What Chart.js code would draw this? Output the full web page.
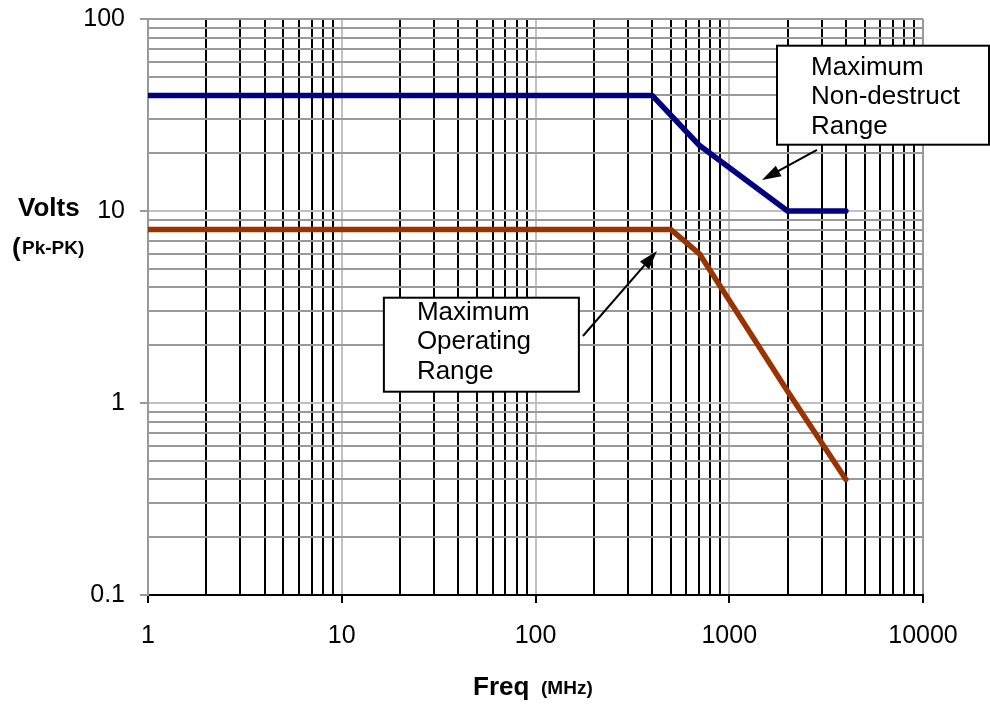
<!DOCTYPE html>
<html lang="en">
<head>
  <meta charset="UTF-8">
  <title>Volts vs Freq</title>
  <script src="https://cdn.jsdelivr.net/npm/chart.js"></script>
  <style>
    body {
      margin: 0;
      background: #fff;
    }
    #chartContainer {
      position: relative;
      width: 990px;
      height: 706px;
    }
  </style>
</head>
<body>

  <div id="chartContainer">
    <canvas id="voltChart"></canvas>
  </div>

  <script>
    // Data
    const nonDestructFreq = [1, 400, 700, 2000, 4000];
    const nonDestructVolts = [40, 40, 22, 10, 10];
    const operatingFreq = [1, 500, 700, 2000, 4000];
    const operatingVolts = [8, 8, 6, 1.15, 0.4];

    // Axes
    const xDecades = [1, 10, 100, 1000, 10000];
    const xTickLabels = ['1', '10', '100', '1000', '10000'];
    const yDecades = [0.1, 1, 10, 100];
    const yTickLabels = ['0.1', '1', '10', '100'];
    const minorSteps = [2, 3, 4, 5, 6, 7, 8, 9];

    const FONT = '"Liberation Sans", Arial, sans-serif';

    // Callouts: box corner and arrow ends in data units, sizes in pixels
    const notes = [
      { lines: ['Maximum', 'Non-destruct', 'Range'], corner: [1764, 72.6], w: 212, h: 99, textX: 34, textY: 29,
        tail: [2837, 20.8], tip: [1476, 14.5] },
      { lines: ['Maximum', 'Operating', 'Range'], corner: [16.5, 3.535], w: 195, h: 94, textX: 33, textY: 22,
        tail: [175.8, 2.233], tip: [423.6, 6.19] }
    ];

    // Decade ticks plus the 2..9 minor ticks between them
    function logTicks(decades, labels) {
      const ticks = [];
      decades.forEach((d, i) => {
        ticks.push({ value: d, dec: true, lbl: labels[i], edge: i === 0 || i === decades.length - 1 });
        if (i < decades.length - 1) {
          minorSteps.forEach(m => ticks.push({ value: d * m, dec: false, lbl: '' }));
        }
      });
      return ticks;
    }

    function pairs(xs, ys) {
      return xs.map((x, i) => ({ x: x, y: ys[i] }));
    }

    const calloutPlugin = {
      id: 'callouts',
      afterDraw(chart) {
        const ctx = chart.ctx;
        const xs = chart.scales.x;
        const ys = chart.scales.y;
        ctx.save();

        // axis titles with mixed sizes
        ctx.fillStyle = '#000';
        ctx.textBaseline = 'alphabetic';
        ctx.textAlign = 'left';
        ctx.font = 'bold 26px ' + FONT;
        ctx.fillText('Volts', 18, 216);
        ctx.fillText('(', 12, 256);
        ctx.fillText('Freq', 473, 695);
        ctx.font = 'bold 19px ' + FONT;
        ctx.fillText('Pk-PK)', 22, 254);
        ctx.fillText('(MHz)', 541, 694);

        notes.forEach(n => {
          const bx = xs.getPixelForValue(n.corner[0]);
          const by = ys.getPixelForValue(n.corner[1]);
          ctx.fillStyle = '#fff';
          ctx.fillRect(bx, by, n.w, n.h);
          ctx.strokeStyle = '#000';
          ctx.lineWidth = 2;
          ctx.strokeRect(bx, by, n.w, n.h);
          ctx.fillStyle = '#000';
          ctx.font = '26px ' + FONT;
          n.lines.forEach((t, i) => ctx.fillText(t, bx + n.textX, by + n.textY + i * 29.5));

          // arrow
          const x0 = xs.getPixelForValue(n.tail[0]);
          const y0 = ys.getPixelForValue(n.tail[1]);
          const x1 = xs.getPixelForValue(n.tip[0]);
          const y1 = ys.getPixelForValue(n.tip[1]);
          const ang = Math.atan2(y1 - y0, x1 - x0);
          const head = 19;
          const half = 6;
          ctx.beginPath();
          ctx.moveTo(x0, y0);
          ctx.lineTo(x1 - Math.cos(ang) * head * 0.8, y1 - Math.sin(ang) * head * 0.8);
          ctx.lineWidth = 2;
          ctx.stroke();
          ctx.beginPath();
          ctx.moveTo(x1, y1);
          ctx.lineTo(x1 - Math.cos(ang) * head + Math.sin(ang) * half, y1 - Math.sin(ang) * head - Math.cos(ang) * half);
          ctx.lineTo(x1 - Math.cos(ang) * head - Math.sin(ang) * half, y1 - Math.sin(ang) * head + Math.cos(ang) * half);
          ctx.closePath();
          ctx.fill();
        });
        ctx.restore();
      }
    };

    const ctx = document.getElementById('voltChart').getContext('2d');
    const voltChart = new Chart(ctx, {
      type: 'scatter',
      data: {
        datasets: [
          {
            label: 'Maximum Non-destruct Range',
            data: pairs(nonDestructFreq, nonDestructVolts),
            showLine: true,
            borderColor: '#000080',
            borderWidth: 5.5,
            borderCapStyle: 'round',
            borderJoinStyle: 'round',
            pointRadius: 0,
            pointHoverRadius: 0
          },
          {
            label: 'Maximum Operating Range',
            data: pairs(operatingFreq, operatingVolts),
            showLine: true,
            borderColor: '#993300',
            borderWidth: 5.5,
            borderCapStyle: 'round',
            borderJoinStyle: 'round',
            pointRadius: 0,
            pointHoverRadius: 0
          }
        ]
      },
      options: {
        responsive: true,
        maintainAspectRatio: false,
        animation: false,
        layout: {
          padding: { top: 19, right: 67, left: 0, bottom: 0 }
        },
        plugins: {
          legend: { display: false },
          tooltip: { enabled: false }
        },
        scales: {
          x: {
            type: 'logarithmic',
            min: 1,
            max: 10000,
            afterBuildTicks: s => { s.ticks = logTicks(xDecades, xTickLabels); },
            afterFit: s => { s.height = 111; s.paddingLeft = 0; s.paddingRight = 0; },
            ticks: {
              autoSkip: false,
              maxRotation: 0,
              padding: 18,
              color: '#000',
              font: { family: FONT, size: 25 },
              callback: (v, i, t) => t[i].lbl
            },
            grid: {
              lineWidth: 2,
              tickLength: 8,
              tickWidth: 2,
              color: c => {
                const t = c.tick;
                if (!t) return '#999';
                if (t.edge) return '#999';
                return t.dec ? '#c0c0c0' : '#000';
              },
              tickColor: c => (c.tick && c.tick.dec ? '#000' : 'rgba(0,0,0,0)')
            },
            border: { display: true, color: '#000', width: 2 }
          },
          y: {
            type: 'logarithmic',
            min: 0.1,
            max: 100,
            afterBuildTicks: s => { s.ticks = logTicks(yDecades, yTickLabels); },
            afterFit: s => { s.width = 148; s.paddingTop = 0; s.paddingBottom = 0; },
            ticks: {
              autoSkip: false,
              padding: 15,
              color: '#000',
              font: { family: FONT, size: 25 },
              callback: (v, i, t) => t[i].lbl
            },
            grid: {
              lineWidth: 2,
              tickLength: 8,
              tickWidth: 2,
              color: c => {
                const t = c.tick;
                if (!t) return '#999';
                if (t.edge) return '#999';
                return t.dec ? '#c0c0c0' : '#999';
              },
              tickColor: c => (c.tick && c.tick.dec ? '#999' : 'rgba(0,0,0,0)')
            },
            border: { display: true, color: '#999', width: 2 }
          }
        }
      },
      plugins: [calloutPlugin]
    });
  </script>

</body>
</html>
